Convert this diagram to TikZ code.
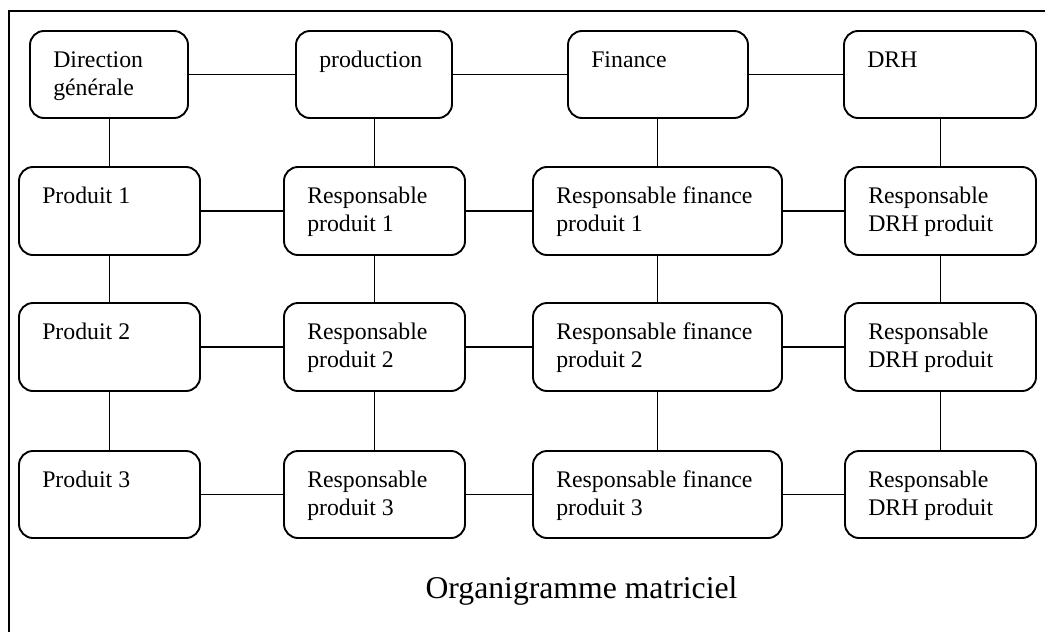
\documentclass[tikz,border=0pt]{standalone}
\usepackage{fontspec}
\setmainfont{Liberation Serif}
\usetikzlibrary{calc}
\tikzset{
  orgbox/.style={draw, line width=1.9pt, rounded corners=14pt, inner sep=0pt},
  orglbl/.style={font=\fontsize{23.8}{28}\selectfont, align=left, inner sep=0pt, anchor=base west},
  conn/.style={line width=1.7pt},
  frameline/.style={line width=2.4pt},
}
% #7 = vertical offset of the LAST baseline below the box top
\newcommand\orgnode[7]{%
  \node[orgbox, minimum width={#4-#2}, minimum height={#5-#3}] (#1) at ({(#2+#4)/2},{(#3+#5)/2}) {};
  \node[orglbl] (#1-t) at ($(#1.north west)+(24,#7)$) {#6};
}
\begin{document}
\begin{tikzpicture}[x=1pt,y=-1pt]
\useasboundingbox (0,0) rectangle (1045,632);
\clip (0,0) rectangle (1045,632);
\draw[frameline] (9,700) -- (9,11) -- (1100,11);

% row 1
\orgnode{dg}{30}{31}{188}{118}{Direction\\générale}{65}
\orgnode{prod}{296}{31}{452}{118}{production}{37}
\orgnode{fin}{568}{31}{748}{118}{Finance}{37}
\orgnode{drh}{844}{31}{1036}{118}{DRH}{37}
% row 2
\orgnode{p1}{19}{167}{200}{255}{Produit 1}{37}
\orgnode{rp1}{284}{167}{465}{255}{Responsable\\produit 1}{65}
\orgnode{rf1}{533}{167}{782}{255}{Responsable finance\\produit 1}{65}
\orgnode{rd1}{845}{167}{1036}{255}{Responsable\\DRH produit}{65}
% row 3
\orgnode{p2}{19}{303}{200}{391}{Produit 2}{37}
\orgnode{rp2}{284}{303}{465}{391}{Responsable\\produit 2}{65}
\orgnode{rf2}{533}{303}{782}{391}{Responsable finance\\produit 2}{65}
\orgnode{rd2}{845}{303}{1036}{391}{Responsable\\DRH produit}{65}
% row 4
\orgnode{p3}{19}{451}{200}{538}{Produit 3}{37}
\orgnode{rp3}{284}{451}{465}{538}{Responsable\\produit 3}{65}
\orgnode{rf3}{533}{451}{782}{538}{Responsable finance\\produit 3}{65}
\orgnode{rd3}{845}{451}{1036}{538}{Responsable\\DRH produit}{65}

% horizontal connectors
\foreach \a/\b in {dg/prod,prod/fin,fin/drh,
                   p1/rp1,rp1/rf1,rf1/rd1,
                   p2/rp2,rp2/rf2,rf2/rd2,
                   p3/rp3,rp3/rf3,rf3/rd3}
  \draw[conn] (\a.east) -- (\b.west);
% vertical connectors
\foreach \a/\b in {dg/p1,p1/p2,p2/p3,
                   prod/rp1,rp1/rp2,rp2/rp3,
                   fin/rf1,rf1/rf2,rf2/rf3,
                   drh/rd1,rd1/rd2,rd2/rd3}
  \draw[conn] (\b.north) -- (\b.north |- \a.south);

\node[font=\fontsize{31.7}{36}\selectfont, anchor=base, inner sep=0pt] (title) at (581.5,598) {Organigramme matriciel};
\end{tikzpicture}
\end{document}
